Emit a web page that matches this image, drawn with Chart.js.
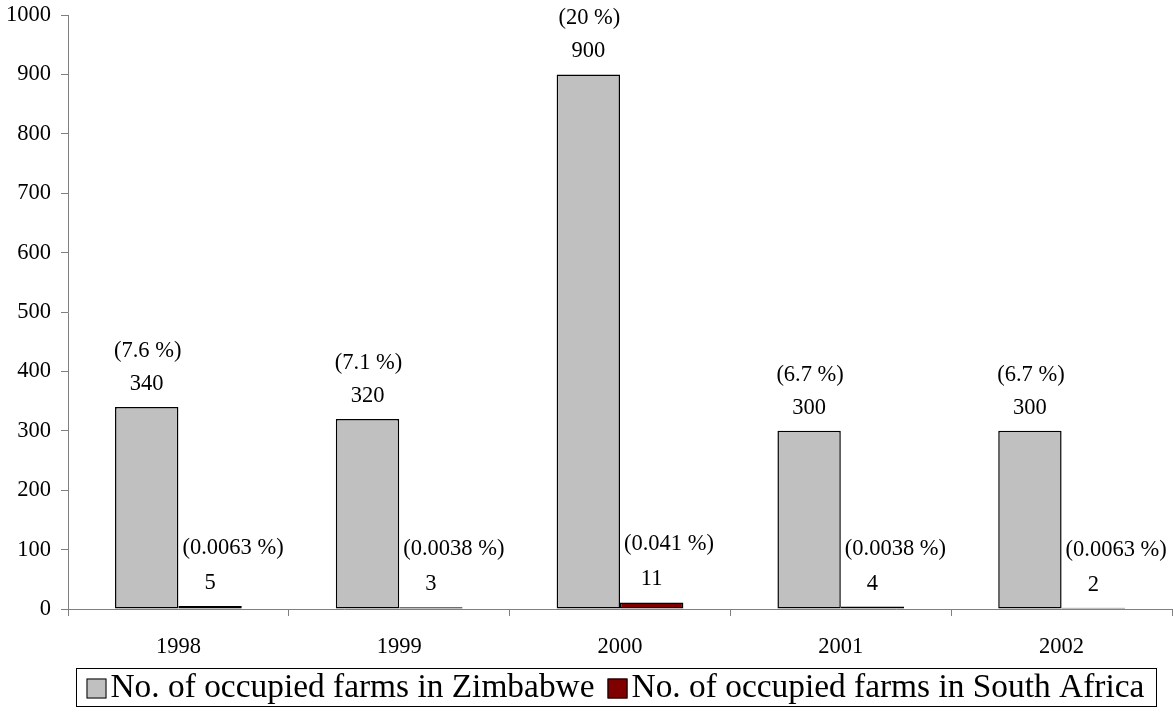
<!DOCTYPE html>
<html>
<head>
<meta charset="utf-8">
<script src="https://cdn.jsdelivr.net/npm/chart.js@4.4.1/dist/chart.umd.min.js"></script>
<style>
  html, body { margin: 0; padding: 0; background: #ffffff; }
  #wrap { width: 1173px; height: 713px; }
</style>
</head>
<body>
<div id="wrap"><canvas id="c" width="1173" height="713"></canvas></div>
<script>
// Farm occupations per year
const years = ['1998', '1999', '2000', '2001', '2002'];
const zimbabweFarms = [340, 320, 900, 300, 300];
const southAfricaFarms = [5, 3, 11, 4, 2];
// Share of all farms, shown in brackets above each bar
const zimbabweShare = ['7.6', '7.1', '20', '6.7', '6.7'];
const southAfricaShare = ['0.0063', '0.0038', '0.041', '0.0038', '0.0063'];
// Value axis
const yMin = 0;
const yMax = 1000;
const yStep = 100;

const SERIF = "'Liberation Serif', 'Times New Roman', Times, serif";
const LABEL_PX = 22.5;
const LEGEND_PX = 33.4;

// Value and percentage labels above each bar
const valueLabels = {
  id: 'valueLabels',
  afterDatasetsDraw(chart) {
    const ctx = chart.ctx;
    ctx.save();
    ctx.font = LABEL_PX + 'px ' + SERIF;
    ctx.fillStyle = '#000000';
    ctx.textBaseline = 'middle';
    chart.data.datasets.forEach((ds, di) => {
      const meta = chart.getDatasetMeta(di);
      const shares = di === 0 ? zimbabweShare : southAfricaShare;
      meta.data.forEach((bar, i) => {
        ctx.textAlign = 'center';
        ctx.fillText(String(ds.data[i]), bar.x, bar.y - 23);
        const pct = '(' + shares[i] + ' %)';
        if (di === 0) {
          ctx.fillText(pct, bar.x + 1, bar.y - 56);
        } else {
          ctx.textAlign = 'left';
          ctx.fillText(pct, bar.x - bar.width / 2 + 4, bar.y - 58);
        }
      });
    });
    ctx.restore();
  }
};

// Boxed legend below the axis labels
const boxedLegend = {
  id: 'boxedLegend',
  afterDraw(chart) {
    const ctx = chart.ctx;
    const area = chart.chartArea;
    const left = area.left + 8.5;
    const top = 668.5;
    const width = 1080;
    const height = 38;
    ctx.save();
    ctx.lineWidth = 1;
    ctx.strokeStyle = '#000000';
    ctx.strokeRect(left, top, width, height);
    ctx.font = LEGEND_PX + 'px ' + SERIF;
    ctx.textBaseline = 'middle';
    ctx.textAlign = 'left';
    const midY = top + height / 2 + 1;
    let x = left + 10;
    chart.data.datasets.forEach((ds) => {
      ctx.fillStyle = ds.backgroundColor;
      ctx.fillRect(x, midY - 10, 20, 20);
      ctx.strokeStyle = '#000000';
      ctx.strokeRect(x + 0.5, midY - 9.5, 19, 19);
      x += 24;
      ctx.fillStyle = '#000000';
      ctx.fillText(ds.label, x, midY);
      x += ctx.measureText(ds.label).width + 13;
    });
    ctx.restore();
  }
};

new Chart(document.getElementById('c'), {
  type: 'bar',
  data: {
    labels: years,
    datasets: [
      {
        label: 'No. of occupied farms in Zimbabwe',
        data: zimbabweFarms,
        backgroundColor: '#c0c0c0',
        borderColor: '#000000',
        borderWidth: 1.5,
        borderSkipped: false
      },
      {
        label: 'No. of occupied farms in South Africa',
        data: southAfricaFarms,
        backgroundColor: '#800000',
        borderColor: '#000000',
        borderWidth: 1.5,
        borderSkipped: false
      }
    ]
  },
  options: {
    responsive: false,
    animation: false,
    devicePixelRatio: 1,
    layout: { padding: { top: 15, right: 1, bottom: 0, left: 0 } },
    datasets: {
      bar: { categoryPercentage: 0.574, barPercentage: 1.0 }
    },
    plugins: {
      legend: { display: false },
      tooltip: { enabled: false }
    },
    scales: {
      x: {
        grid: {
          offset: true,
          drawOnChartArea: false,
          drawTicks: true,
          tickLength: 7,
          color: '#808080'
        },
        border: { color: '#808080', width: 1 },
        ticks: {
          color: '#000000',
          font: { family: SERIF, size: LABEL_PX },
          padding: 18,
          maxRotation: 0
        },
        afterFit(scale) {
          scale.height = 104;
          scale.paddingLeft = 0;
          scale.paddingRight = 0;
        }
      },
      y: {
        min: yMin,
        max: yMax,
        grid: {
          drawOnChartArea: false,
          drawTicks: true,
          tickLength: 7,
          color: '#808080'
        },
        border: { color: '#808080', width: 1 },
        ticks: {
          stepSize: yStep,
          color: '#000000',
          font: { family: SERIF, size: LABEL_PX },
          padding: 10,
          callback: (v) => String(v)
        },
        afterFit(scale) {
          scale.width = 68;
          scale.paddingTop = 0;
          scale.paddingBottom = 0;
        }
      }
    }
  },
  plugins: [valueLabels, boxedLegend]
});
</script>
</body>
</html>
